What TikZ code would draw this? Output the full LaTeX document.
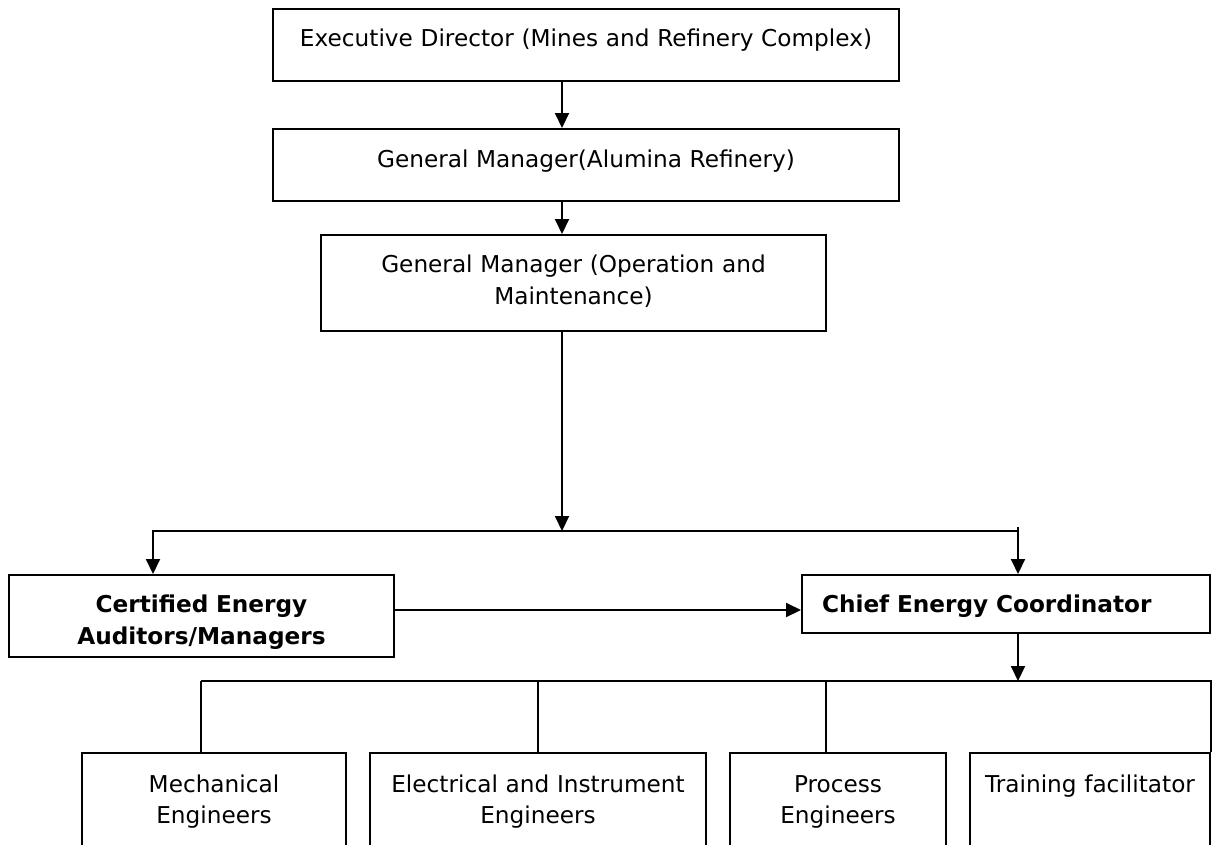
\documentclass[tikz,border=0pt]{standalone}
\usepackage{fontspec}
\setmainfont{DejaVu Sans}
\usepackage{tikz}
\usetikzlibrary{calc,positioning,arrows.meta}

\tikzset{
	box/.style={draw,line width=2pt,inner xsep=0pt,inner ysep=0pt,align=center,font=\fontsize{23.2}{32}\selectfont},
	boldbox/.style={box,font=\fontsize{23.2}{32}\selectfont\bfseries},
	lowbox/.style={box,text height=39pt,text depth=108pt,font=\fontsize{23.2}{31}\selectfont},
	thin line/.style={line width=1.4pt}
}

\begin{document}
\begin{tikzpicture}[x=1pt,y=-1pt,line width=2pt,>={Triangle[length=15pt,width=14pt]}]
		\useasboundingbox (0,0) rectangle (1224,844);
		\clip (0,0) rectangle (1224,844);
		\node(1) [box,text width=626pt,text height=37pt,text depth=35pt,anchor=base] at (586,46) {Executive Director (Mines and Refinery Complex)};
		\node(2) [box,text width=626pt,text height=38pt,text depth=34pt,anchor=base] at (586,167) {General Manager(Alumina Refinery)};
		\node(3) [box,text width=505pt,text height=37pt,text depth=59pt,anchor=base] at (573.5,272) {General Manager (Operation and\\Maintenance)};
		\node(4) [boldbox,text width=385pt,text height=37pt,text depth=45pt,anchor=base] at (201.5,612) {Certified Energy\\Auditors/Managers};
		\node(5) [boldbox,text width=408pt,text height=37pt,text depth=21pt,anchor=base,align=left] at (1006,612) {\hspace*{20pt}Chief Energy Coordinator};
		\node(6) [lowbox,text width=264pt,anchor=base] at (214,792) {Mechanical\\Engineers};
		\node(7) [lowbox,text width=336pt,anchor=base] at (538,792) {Electrical and Instrument\\Engineers};
		\node(8) [lowbox,text width=216pt,anchor=base] at (838,792) {Process\\Engineers};
		\node(9) [lowbox,text width=240pt,anchor=base] at (1090,792) {Training facilitator};
		% bus points
		\coordinate (a) at (562,531);
		\coordinate (b) at (153,531);
		\coordinate (c) at (1018,531);
		\coordinate (d) at (201,681);
		\coordinate (e) at (9.north east |- 201,681);
		\coordinate (p) at (826,681);
		\coordinate (m) at ($(4.east)!0.5!(5.west)$);
		\path[->]
			(1.south -| a) edge (2.north -| a)
			(2.south -| a) edge (3.north -| a)
			(3.south -| a) edge (a);
		\draw[->] (c) -- (b) -- (4.north -| b);
		\draw[->] ([yshift=4pt]c) -- (5.north -| c);
		\draw[->] (4.east |- m) -- (5.west |- m);
		\draw[->] (5.south -| c) -- (d -| c);
		\draw (d) -- (e) -- (9.north east);
		\draw[thin line] (d) -- (6.north -| d) (7.north |- d) -- (7.north) (p) -- (8.north -| p);
	\end{tikzpicture}
\end{document}
